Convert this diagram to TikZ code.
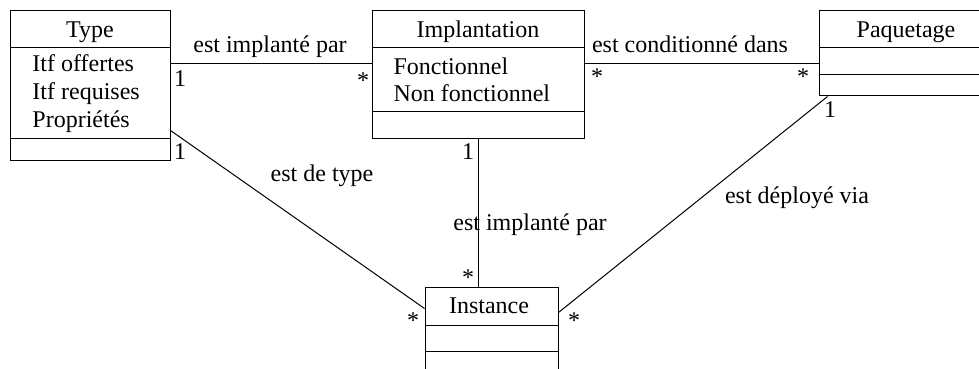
\documentclass[tikz,border=0pt]{standalone}
\usepackage{fontspec}
\setmainfont{Liberation Serif}
\tikzset{
  classbox/.style={draw, inner sep=0pt},
  txt/.style={inner sep=0pt, anchor=base},
  attr/.style={inner sep=0pt, anchor=base west},
  mult/.style={inner sep=0pt},
}
\begin{document}
\begin{tikzpicture}[x=0.5pt, y=-0.5pt, font=\fontsize{12}{13.5}\selectfont, line width=0.5pt]
  \useasboundingbox (0,0) rectangle (979,369);
  \clip (0,0) rectangle (979,369);

  % classes
  \node[classbox, minimum width=80pt, minimum height=74.5pt] (Type) at (90,85.5) {};
    \node[txt] (TypeName) at (90,38) {Type};
    \node[attr] (TypeAttr1) at (32,72) {Itf offertes};
    \node[attr] (TypeAttr2) at (32,99.5) {Itf requises};
    \node[attr] (TypeAttr3) at (32,127) {Propriétés};
    \draw (10,48) -- (170,48) (10,138) -- (170,138);

  \node[classbox, minimum width=106pt, minimum height=63.5pt] (Impl) at (478,74.5) {};
    \node[txt] (ImplName) at (478,38) {Implantation};
    \node[attr] (ImplAttr1) at (393,75) {Fonctionnel};
    \node[attr] (ImplAttr2) at (393,102) {Non fonctionnel};
    \draw (372,48) -- (584,48) (372,112) -- (584,112);

  \node[classbox, minimum width=87pt, minimum height=42.5pt] (Paq) at (906,53.5) {};
    \node[txt] (PaqName) at (906,38) {Paquetage};
    \draw (819,48) -- (993,48) (819,75) -- (993,75);

  \node[classbox, minimum width=66.5pt, minimum height=45pt] (Inst) at (491.5,332) {};
    \node[txt] (InstName) at (489,313) {Instance};
    \draw (425,325) -- (558,325) (425,351) -- (558,351);

  % associations
  \draw ([yshift=-26.5pt]Type.north east) -- ([yshift=-26.5pt]Impl.north west);
  \draw ([yshift=-26.5pt]Impl.north east) -- ([yshift=-26.5pt]Paq.north west);
  \draw ([yshift=15pt]Type.south east) -- ([yshift=-11pt]Inst.north west);
  \draw (Impl.south) -- (Impl.south |- Inst.north);
  \draw ([xshift=4.5pt]Paq.south west) -- ([yshift=-13pt]Inst.north east);

  \node[txt] (TypeImpl) at (270,53) {est implanté par};
  \node[txt] (ImplPaq) at (690,53) {est conditionné dans};
  \node[txt] (TypeInst) at (322,181) {est de type};
  \node[txt] (ImplInst) at (530,230) {est implanté par};
  \node[txt] (PaqInst) at (797,203) {est déployé via};

  % multiplicities
  \node[txt] (m1) at (180,87) {1};
  \node[mult] (m2) at (363,81) {*};
  \node[mult] (m3) at (597,77) {*};
  \node[mult] (m4) at (803,77) {*};
  \node[txt] (m5) at (180,159) {1};
  \node[txt] (m6) at (468,159) {1};
  \node[mult] (m7) at (468,278) {*};
  \node[mult] (m8) at (413,321) {*};
  \node[mult] (m9) at (574,321) {*};
  \node[txt] (m10) at (830,118) {1};
\end{tikzpicture}
\end{document}
